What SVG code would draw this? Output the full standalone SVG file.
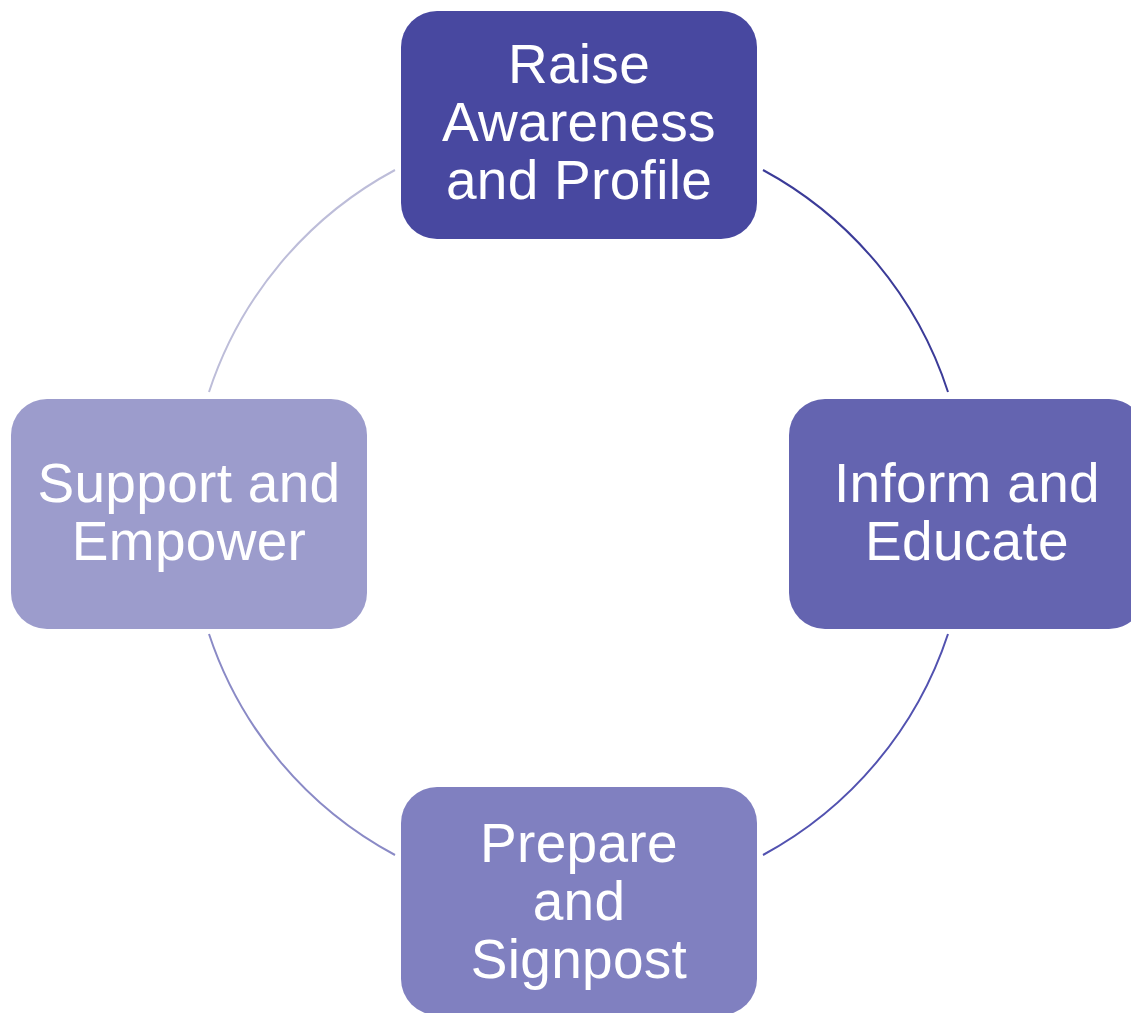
<svg xmlns="http://www.w3.org/2000/svg" width="1131" height="1013" viewBox="0 0 1131 1013">
<style>
text{font-family:"Liberation Sans",Arial,sans-serif;font-size:55px;letter-spacing:0.3px;fill:#fff;text-anchor:middle}
.arc{fill:none;stroke-width:2}
</style>
<rect width="1131" height="1013" fill="#fff"/>
<g id="connectors">
<path class="arc" d="M763,170 A390,390 0 0 1 948,392" stroke="#3b3b98"/>
<path class="arc" d="M948,634 A390,390 0 0 1 763,855" stroke="#5252b0"/>
<path class="arc" d="M395,855 A390,390 0 0 1 209,634" stroke="#8a8ac6"/>
<path class="arc" d="M209,392 A390,390 0 0 1 395,170" stroke="#bdbdd9"/>
</g>
<g id="raise">
<rect x="401" y="11" width="356" height="228" rx="36" fill="#4848a0"/>
<text x="579" y="83">Raise</text>
<text x="579" y="141">Awareness</text>
<text x="579" y="199">and Profile</text>
</g>
<g id="inform">
<rect x="789" y="399" width="356" height="230" rx="36" fill="#6464b0"/>
<text x="967" y="502">Inform and</text>
<text x="967" y="560">Educate</text>
</g>
<g id="prepare">
<rect x="401" y="787" width="356" height="228" rx="36" fill="#8080c0"/>
<text x="579" y="862">Prepare</text>
<text x="579" y="920">and</text>
<text x="579" y="978">Signpost</text>
</g>
<g id="support">
<rect x="11" y="399" width="356" height="230" rx="36" fill="#9c9ccc"/>
<text x="189" y="502">Support and</text>
<text x="189" y="560">Empower</text>
</g>
</svg>
